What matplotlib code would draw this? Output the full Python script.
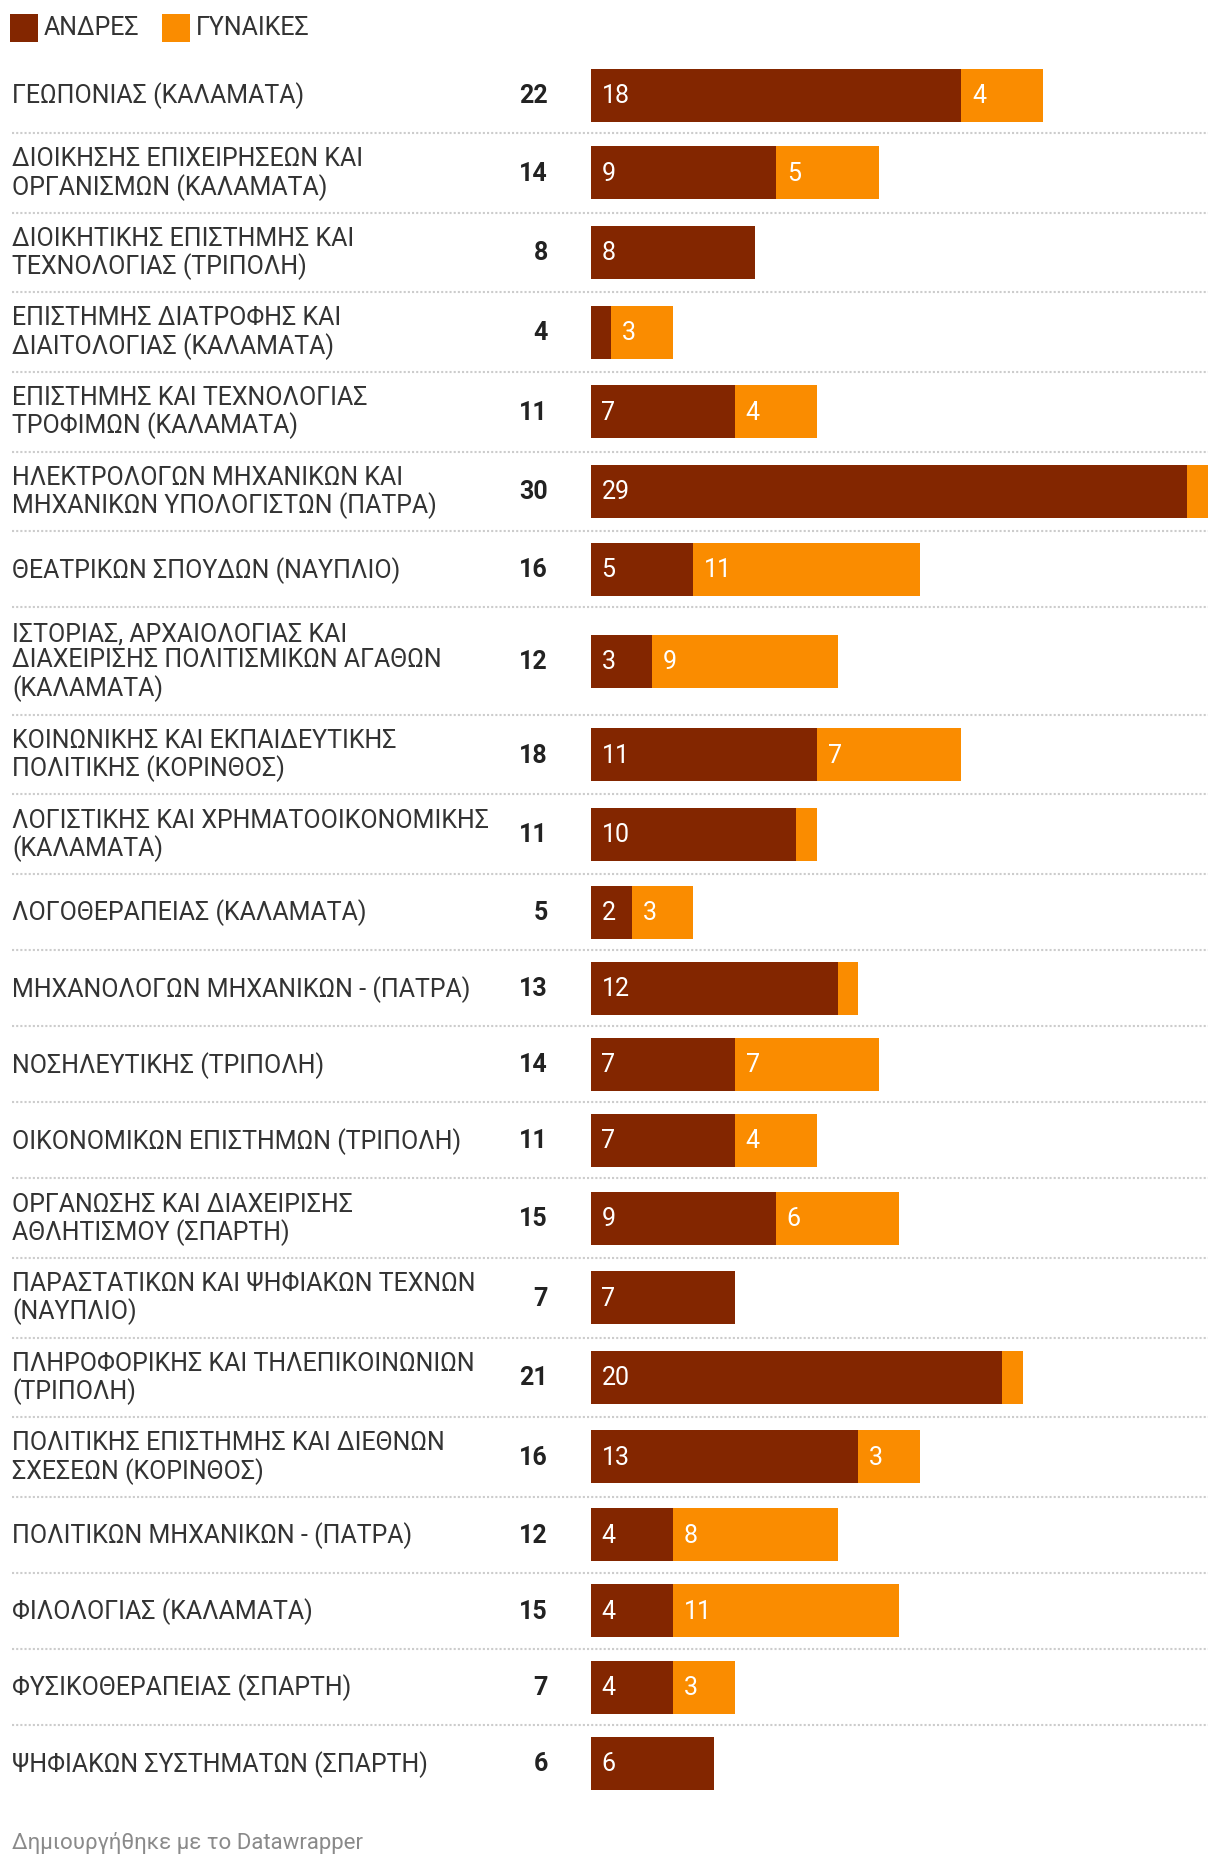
import matplotlib
matplotlib.use("Agg")
import matplotlib.pyplot as plt
from matplotlib.patches import Rectangle
from matplotlib.transforms import offset_copy

plt.rcParams['font.family'] = ['Roboto', 'DejaVu Sans']

# data
departments = [
    "ΓΕΩΠΟΝΙΑΣ (ΚΑΛΑΜΑΤΑ)",
    "ΔΙΟΙΚΗΣΗΣ ΕΠΙΧΕΙΡΗΣΕΩΝ ΚΑΙ\nΟΡΓΑΝΙΣΜΩΝ (ΚΑΛΑΜΑΤΑ)",
    "ΔΙΟΙΚΗΤΙΚΗΣ ΕΠΙΣΤΗΜΗΣ ΚΑΙ\nΤΕΧΝΟΛΟΓΙΑΣ (ΤΡΙΠΟΛΗ)",
    "ΕΠΙΣΤΗΜΗΣ ΔΙΑΤΡΟΦΗΣ ΚΑΙ\nΔΙΑΙΤΟΛΟΓΙΑΣ (ΚΑΛΑΜΑΤΑ)",
    "ΕΠΙΣΤΗΜΗΣ ΚΑΙ ΤΕΧΝΟΛΟΓΙΑΣ\nΤΡΟΦΙΜΩΝ (ΚΑΛΑΜΑΤΑ)",
    "ΗΛΕΚΤΡΟΛΟΓΩΝ ΜΗΧΑΝΙΚΩΝ ΚΑΙ\nΜΗΧΑΝΙΚΩΝ ΥΠΟΛΟΓΙΣΤΩΝ (ΠΑΤΡΑ)",
    "ΘΕΑΤΡΙΚΩΝ ΣΠΟΥΔΩΝ (ΝΑΥΠΛΙΟ)",
    "ΙΣΤΟΡΙΑΣ, ΑΡΧΑΙΟΛΟΓΙΑΣ ΚΑΙ\nΔΙΑΧΕΙΡΙΣΗΣ ΠΟΛΙΤΙΣΜΙΚΩΝ ΑΓΑΘΩΝ\n(ΚΑΛΑΜΑΤΑ)",
    "ΚΟΙΝΩΝΙΚΗΣ ΚΑΙ ΕΚΠΑΙΔΕΥΤΙΚΗΣ\nΠΟΛΙΤΙΚΗΣ (ΚΟΡΙΝΘΟΣ)",
    "ΛΟΓΙΣΤΙΚΗΣ ΚΑΙ ΧΡΗΜΑΤΟΟΙΚΟΝΟΜΙΚΗΣ\n(ΚΑΛΑΜΑΤΑ)",
    "ΛΟΓΟΘΕΡΑΠΕΙΑΣ (ΚΑΛΑΜΑΤΑ)",
    "ΜΗΧΑΝΟΛΟΓΩΝ ΜΗΧΑΝΙΚΩΝ - (ΠΑΤΡΑ)",
    "ΝΟΣΗΛΕΥΤΙΚΗΣ (ΤΡΙΠΟΛΗ)",
    "ΟΙΚΟΝΟΜΙΚΩΝ ΕΠΙΣΤΗΜΩΝ (ΤΡΙΠΟΛΗ)",
    "ΟΡΓΑΝΩΣΗΣ ΚΑΙ ΔΙΑΧΕΙΡΙΣΗΣ\nΑΘΛΗΤΙΣΜΟΥ (ΣΠΑΡΤΗ)",
    "ΠΑΡΑΣΤΑΤΙΚΩΝ ΚΑΙ ΨΗΦΙΑΚΩΝ ΤΕΧΝΩΝ\n(ΝΑΥΠΛΙΟ)",
    "ΠΛΗΡΟΦΟΡΙΚΗΣ ΚΑΙ ΤΗΛΕΠΙΚΟΙΝΩΝΙΩΝ\n(ΤΡΙΠΟΛΗ)",
    "ΠΟΛΙΤΙΚΗΣ ΕΠΙΣΤΗΜΗΣ ΚΑΙ ΔΙΕΘΝΩΝ\nΣΧΕΣΕΩΝ (ΚΟΡΙΝΘΟΣ)",
    "ΠΟΛΙΤΙΚΩΝ ΜΗΧΑΝΙΚΩΝ - (ΠΑΤΡΑ)",
    "ΦΙΛΟΛΟΓΙΑΣ (ΚΑΛΑΜΑΤΑ)",
    "ΦΥΣΙΚΟΘΕΡΑΠΕΙΑΣ (ΣΠΑΡΤΗ)",
    "ΨΗΦΙΑΚΩΝ ΣΥΣΤΗΜΑΤΩΝ (ΣΠΑΡΤΗ)",
]
men = [18, 9, 8, 1, 7, 29, 5, 3, 11, 10, 2, 12, 7, 7, 9, 7, 20, 13, 4, 4, 4, 6]
women = [4, 5, 0, 3, 4, 1, 11, 9, 7, 1, 3, 1, 7, 4, 6, 0, 1, 3, 8, 11, 3, 0]

MEN_COLOR = "#832600"
WOMEN_COLOR = "#fa8c00"
TEXT = "#333333"
FS = 18

W, H = 1220, 1866
fig = plt.figure(figsize=(W / 100, H / 100), dpi=100)

# full-figure axes in pixel units for layout
ax = fig.add_axes([0, 0, 1, 1])
ax.set_xlim(0, W)
ax.set_ylim(H, 0)
ax.axis("off")

# bar axes: x in data units, y shared pixel layout
bx0, bx1 = 590.5, 1208
bax = fig.add_axes([bx0 / W, 0, (bx1 - bx0) / W, 1])
bax.set_xlim(0, max(m + w for m, w in zip(men, women)))
bax.set_ylim(H, 0)
bax.axis("off")

# legend
ax.add_patch(Rectangle((10, 14), 28, 28, color=MEN_COLOR, lw=0))
ax.text(44, 28, "ΑΝΔΡΕΣ", fontsize=FS, color=TEXT, va="center")
ax.add_patch(Rectangle((162, 14), 28, 28, color=WOMEN_COLOR, lw=0))
ax.text(196, 28, "ΓΥΝΑΙΚΕΣ", fontsize=FS, color=TEXT, va="center")

# row layout
top = 57
centers = []
bounds = []
for name in departments:
    n = name.count("\n") + 1
    h = max(76.1, 28 * n + 23.6)
    centers.append(top + h / 2)
    top += h
    bounds.append(top)

bar_h = 53
bax.barh(centers, men, height=bar_h, color=MEN_COLOR, lw=0)
bax.barh(centers, women, left=men, height=bar_h, color=WOMEN_COLOR, lw=0)

lbl_tr = offset_copy(bax.transData, fig=fig, x=11, y=-1, units="dots")
for i, (name, m, w) in enumerate(zip(departments, men, women)):
    c = centers[i]
    ax.text(12, c + 1, name, fontsize=FS, color=TEXT, va="center", ha="left",
            linespacing=1.12)
    ax.text(548, c + 1, str(m + w), fontsize=FS, color="#222222", va="center",
            ha="right", fontweight="bold")
    if m >= 2:
        bax.text(0, c, str(m), transform=lbl_tr, fontsize=FS, color="white",
                 va="center", ha="left")
    if w >= 2:
        bax.text(m, c, str(w), transform=lbl_tr, fontsize=FS, color="white",
                 va="center", ha="left")

# dotted separators
for b in bounds[:-1]:
    ax.plot([12, 1208], [b, b], color="#cccccc", lw=1.5,
            linestyle=(0, (1, 1)), solid_capstyle="butt")

ax.text(12, 1843, "Δημιουργήθηκε με το Datawrapper", fontsize=16,
        color="#8a8a8a", va="center", ha="left")

fig.savefig("out.png", dpi=100)
